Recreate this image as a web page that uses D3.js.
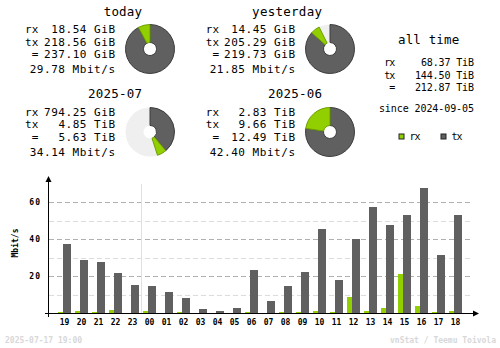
<!DOCTYPE html>
<html>
<head>
<meta charset="utf-8">
<script src="https://cdn.jsdelivr.net/npm/d3@7"></script>
<style>
  html, body { margin: 0; padding: 0; background: #fff; }
  svg { display: block; }
  text { font-family: "DejaVu Sans Mono", monospace; fill: #000; }
</style>
</head>
<body>
<svg id="chart" width="500" height="348"></svg>
<script>
// ---- summary periods ----
const periodNames = ["today", "yesterday", "2025-07", "2025-06"];
const periodRx = [18.54, 14.45, 794.25, 2.83];
const periodRxUnit = ["GiB", "GiB", "GiB", "TiB"];
const periodTx = [218.56, 205.29, 4.85, 9.66];
const periodTxUnit = ["GiB", "GiB", "TiB", "TiB"];
const periodTotal = [237.10, 219.73, 5.63, 12.49];
const periodTotalUnit = ["GiB", "GiB", "TiB", "TiB"];
const periodRate = [29.78, 21.85, 34.14, 42.40];

// ---- all time ----
const allTimeRx = 68.37;
const allTimeTx = 144.50;
const allTimeTotal = 212.87;
const allTimeUnit = "TiB";
const sinceDate = "2024-09-05";

// ---- hourly rates (Mbit/s) ----
const hours = ["19","20","21","22","23","00","01","02","03","04","05","06",
               "07","08","09","10","11","12","13","14","15","16","17","18"];
const rxRate = [0.9, 1.2, 0.9, 2.0, 0, 1.4, 0, 0.9, 0, 0, 0, 0.9,
                0, 0.7, 0.7, 1.2, 0.7, 9.0, 1.4, 3.0, 21.4, 4.1, 0.7, 1.4];
const txRate = [37.6, 29.0, 27.9, 21.9, 15.5, 14.9, 11.7, 8.4, 2.5, 1.4, 3.0, 23.6,
                6.8, 14.9, 22.5, 45.7, 18.2, 40.3, 57.6, 47.4, 53.3, 67.4, 31.7, 52.8];
const yTicks = [20, 40, 60];
const yMinor = [10, 30, 50];

const footerLeft = "2025-07-17 19:00";
const footerRight = "vnStat / Teemu Toivola";

const RX = "#92cf00", RX_EDGE = "#6f9e00";
const TX = "#606060", TX_EDGE = "#3c3c3c";
const EMPTY = "#efefef";

const svg = d3.select("#chart");

const toGiB = (v, u) => u === "TiB" ? v * 1024 : v;

// fixed-pitch text helper: every glyph gets the same advance
function mono(parent, str, xPos, yPos, size, adv, anchor) {
  const t = parent.append("text")
    .attr("x", xPos).attr("y", yPos)
    .attr("text-anchor", anchor || "start")
    .attr("xml:space", "preserve")
    .style("font-size", size + "px")
    .text(str);
  if (str.length > 1) {
    t.attr("textLength", (str.length - 0.15) * adv).attr("lengthAdjust", "spacing");
  }
  return t;
}

// ---- summary blocks with pies ----
const colX = [25, 205.7], colEnd = [115, 295], titleEnd = [142, 322], pieX = [150, 330];
const rowY = [16, 98.3], pieY = [49, 132];
const arc = d3.arc().innerRadius(6.5).outerRadius(24.5);

periodNames.forEach((name, i) => {
  const c = i % 2, r = Math.floor(i / 2);
  const g = svg.append("g");
  const y0 = rowY[r];
  mono(g, name, titleEnd[c], y0, 12.5, 7.9, "end");

  const rows = [
    ["rx", periodRx[i].toFixed(2) + " " + periodRxUnit[i], 17.3],
    ["tx", periodTx[i].toFixed(2) + " " + periodTxUnit[i], 29.8],
    [" =", periodTotal[i].toFixed(2) + " " + periodTotalUnit[i], 42.3]
  ];
  rows.forEach(([lab, val, dy]) => {
    mono(g, lab, colX[c], y0 + dy, 11, 7.2);
    mono(g, val, colEnd[c], y0 + dy, 11, 7.2, "end");
  });
  mono(g, periodRate[i].toFixed(2) + " Mbit/s", colEnd[c], y0 + 57.3, 11, 7.2, "end");

  // pie: share of the larger period of the pair
  const pair = r * 2;
  const maxTot = Math.max(toGiB(periodTotal[pair], periodTotalUnit[pair]),
                          toGiB(periodTotal[pair + 1], periodTotalUnit[pair + 1]));
  const txFrac = toGiB(periodTx[i], periodTxUnit[i]) / maxTot;
  const rxFrac = toGiB(periodRx[i], periodRxUnit[i]) / maxTot;
  const full = 2 * Math.PI;
  const a1 = Math.min(txFrac, 1) * full;
  const a2 = Math.min(txFrac + rxFrac, 1) * full;
  const pg = g.append("g").attr("transform", `translate(${pieX[c]},${pieY[r]})`);
  pg.append("path").attr("d", arc({startAngle: 0, endAngle: full})).attr("fill", EMPTY);
  pg.append("path").attr("d", arc({startAngle: 0, endAngle: a1}))
    .attr("fill", TX).attr("stroke", TX_EDGE).attr("stroke-width", 1);
  if (a2 > a1) {
    pg.append("path").attr("d", arc({startAngle: a1, endAngle: a2}))
      .attr("fill", RX).attr("stroke", RX_EDGE).attr("stroke-width", 1);
  }
});

// ---- all time block ----
const at = svg.append("g");
mono(at, "all time", 398, 44, 12.5, 7.8);
[["rx", allTimeRx, 66], ["tx", allTimeTx, 78.5], [" =", allTimeTotal, 91]].forEach(([lab, v, yy]) => {
  mono(at, lab, 384.3, yy, 10, 6.0);
  mono(at, v.toFixed(2) + " " + allTimeUnit, 474, yy, 10, 6.0, "end");
});
mono(at, "since " + sinceDate, 474, 112, 10, 6.0, "end");

// legend
[["rx", RX, 398.5], ["tx", TX, 440.5]].forEach(([lab, col, lx]) => {
  at.append("rect").attr("x", lx + 0.5).attr("y", 134).attr("width", 5).attr("height", 5)
    .attr("fill", col).attr("stroke", "#222").attr("stroke-width", 1);
  mono(at, lab, lx + 11, 139.5, 10, 6.0);
});

// ---- hourly bar chart ----
const x = d3.scaleBand().domain(hours).range([56, 56 + 24 * 17]);
const y = d3.scaleLinear().domain([0, 70]).range([313.5, 183.5]);
const chart = svg.append("g");

// grid
chart.selectAll(".minor").data(yMinor).join("line")
  .attr("x1", 49).attr("x2", 473).attr("y1", d => Math.round(y(d)) + 0.5).attr("y2", d => Math.round(y(d)) + 0.5)
  .attr("stroke", "#dcdcdc").attr("stroke-dasharray", "5,3");
chart.selectAll(".major").data(yTicks).join("line")
  .attr("x1", 49).attr("x2", 473).attr("y1", d => Math.round(y(d)) + 0.5).attr("y2", d => Math.round(y(d)) + 0.5)
  .attr("stroke", "#b0b0b0").attr("stroke-dasharray", "5,3");

// day boundary
chart.append("line").attr("x1", x("00") + 0.5).attr("x2", x("00") + 0.5)
  .attr("y1", 184).attr("y2", 313).attr("stroke", "#e0e0e0");

// bars
chart.selectAll(".rx").data(hours).join("rect")
  .attr("x", h => x(h) + 2).attr("width", 5)
  .attr("y", (h, i) => y(rxRate[i])).attr("height", (h, i) => y(0) - y(rxRate[i]))
  .attr("fill", RX).attr("shape-rendering", "crispEdges");
chart.selectAll(".tx").data(hours).join("rect")
  .attr("x", h => x(h) + 7).attr("width", 8)
  .attr("y", (h, i) => y(txRate[i])).attr("height", (h, i) => y(0) - y(txRate[i]))
  .attr("fill", TX).attr("shape-rendering", "crispEdges");

// axes
chart.append("line").attr("x1", 48.5).attr("x2", 48.5).attr("y1", 180).attr("y2", 317)
  .attr("stroke", "#000").attr("stroke-width", 1);
chart.append("path").attr("d", "M48.5,176 L45.5,182 L51.5,182 Z").attr("fill", "#000");
chart.append("line").attr("x1", 45).attr("x2", 474).attr("y1", 313.5).attr("y2", 313.5)
  .attr("stroke", "#000").attr("stroke-width", 1);
chart.append("path").attr("d", "M479,313.5 L473,310.5 L473,316.5 Z").attr("fill", "#000");

// tick labels
chart.selectAll(".yl").data(yTicks).join("text")
  .attr("x", 41).attr("y", d => y(d) + 3).attr("text-anchor", "end")
  .style("font-size", "8px").style("font-weight", "bold").style("letter-spacing", "1px")
  .text(d => d);
chart.selectAll(".xl").data(hours).join("text")
  .attr("x", h => x(h) + 8.5).attr("y", 324.5).attr("text-anchor", "middle")
  .style("font-size", "8px").style("font-weight", "bold").text(h => h);
chart.append("text").attr("transform", "translate(18,243) rotate(-90)")
  .attr("text-anchor", "middle").style("font-size", "8px").style("font-weight", "bold")
  .text("Mbit/s");

// footer
svg.append("text").attr("x", 5).attr("y", 343).style("font-size", "8px").style("font-weight", "bold")
  .style("fill", "#d8d8d8").text(footerLeft);
svg.append("text").attr("x", 496).attr("y", 343).attr("text-anchor", "end")
  .style("font-size", "8px").style("font-weight", "bold").style("fill", "#d8d8d8").text(footerRight);
</script>
</body>
</html>
